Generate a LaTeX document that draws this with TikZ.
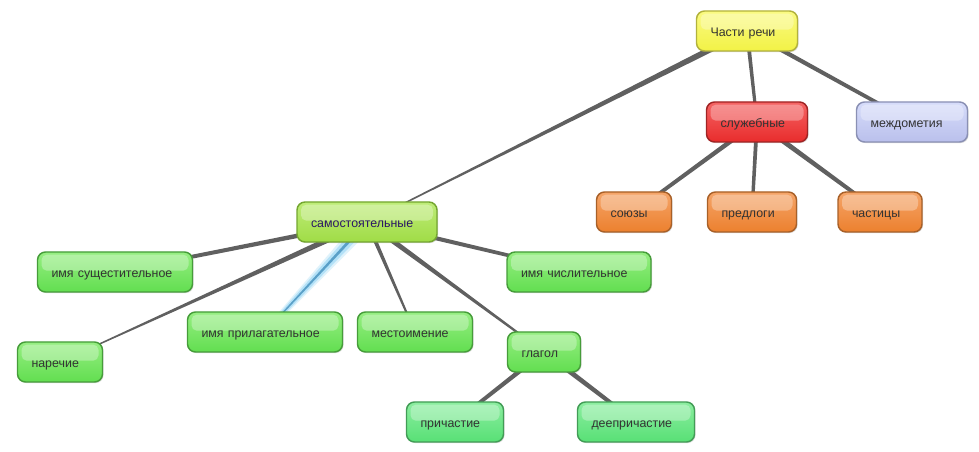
\documentclass[tikz,border=0pt]{standalone}
\usepackage{fontspec}
\setmainfont{Liberation Sans}
\usetikzlibrary{calc,shadows,backgrounds}

\definecolor{edgegray}{RGB}{96,96,96}
\definecolor{textgray}{RGB}{51,51,51}
\definecolor{yellowfill}{RGB}{242,242,70}
\definecolor{yellowtop}{RGB}{250,250,130}
\definecolor{yellowline}{RGB}{178,178,60}
\definecolor{redfill}{RGB}{232,44,44}
\definecolor{redtop}{RGB}{245,100,100}
\definecolor{redline}{RGB}{160,36,36}
\definecolor{lilacfill}{RGB}{186,192,236}
\definecolor{lilactop}{RGB}{214,220,250}
\definecolor{lilacline}{RGB}{138,144,180}
\definecolor{orangefill}{RGB}{236,128,46}
\definecolor{orangetop}{RGB}{245,165,105}
\definecolor{orangeline}{RGB}{168,96,40}
\definecolor{limefill}{RGB}{160,220,70}
\definecolor{limetop}{RGB}{190,236,120}
\definecolor{limeline}{RGB}{116,166,48}
\definecolor{greenfill}{RGB}{98,222,80}
\definecolor{greentop}{RGB}{150,238,130}
\definecolor{greenline}{RGB}{70,156,58}
\definecolor{mintfill}{RGB}{88,224,118}
\definecolor{minttop}{RGB}{140,238,160}
\definecolor{mintline}{RGB}{66,156,86}
\definecolor{glowblue}{RGB}{150,215,245}
\definecolor{coreblue}{RGB}{90,160,200}
\definecolor{indigo}{RGB}{43,22,102}

\tikzset{
  box/.style={rectangle, rounded corners=6pt, line width=1.1pt,
    minimum height=30pt, inner xsep=10.5pt, inner ysep=0pt,
    text width=#1, text height=8pt, text depth=0pt,
    align=left, text=textgray,
    font=\fontsize{9.3}{11}\selectfont,
    drop shadow={shadow xshift=0.8pt, shadow yshift=-0.8pt, opacity=0.3},
    path picture={\fill[white, opacity=0.3, rounded corners=4pt]
      ([xshift=3pt,yshift=-2pt]path picture bounding box.north west) rectangle
      ([xshift=-3pt,yshift=1pt]path picture bounding box.east);}},
  yellowbox/.style={box=#1, draw=yellowline, top color=yellowtop, bottom color=yellowfill},
  redbox/.style={box=#1, draw=redline, top color=redtop, bottom color=redfill},
  lilacbox/.style={box=#1, draw=lilacline, top color=lilactop, bottom color=lilacfill},
  orangebox/.style={box=#1, draw=orangeline, top color=orangetop, bottom color=orangefill},
  limebox/.style={box=#1, draw=limeline, top color=limetop, bottom color=limefill},
  greenbox/.style={box=#1, draw=greenline, top color=greentop, bottom color=greenfill},
  mintbox/.style={box=#1, draw=mintline, top color=minttop, bottom color=mintfill},
  edge/.style={fill=edgegray}
}

% tapered connector: [style]{from}{to}{half width at from}{half width at to}
\newcommand{\branch}[5][edge]{%
  \fill[#1] ($(#2)!#4!90:(#3)$) -- ($(#3)!#5!-90:(#2)$)
    -- ($(#3)!#5!90:(#2)$) -- ($(#2)!#4!-90:(#3)$) -- cycle;}

\begin{document}
\begin{tikzpicture}[x=0.75pt, y=-0.75pt]
  \useasboundingbox (0,0) rectangle (979,452);

  % top
  \node[yellowbox=54.75pt] (chasti) at (747,31) {Части речи};
  \node[redbox=54.75pt] (sluzh) at (757,122) {служебные};
  \node[lilacbox=62.25pt] (mezhd) at (912,122) {междометия};
  \node[orangebox=35.25pt] (soyuzy) at (634,212) {союзы};
  \node[orangebox=45.75pt] (predlogi) at (752,212) {предлоги};
  \node[orangebox=42pt] (chastitsy) at (880,212) {частицы};

  % left branch
  \node[limebox=84pt, text=indigo] (samost) at (367,222) {самостоятельные};
  \node[greenbox=95.25pt] (sush) at (115,272) {имя сущестительное};
  \node[greenbox=87pt] (chisl) at (579,272) {имя числительное};
  \node[greenbox=42.75pt] (narech) at (60,362) {наречие};
  \node[greenbox=95.25pt] (prilag) at (265,332) {имя прилагательное};
  \node[greenbox=65.25pt] (mestoim) at (415,332) {местоимение};
  \node[greenbox=33.75pt] (glagol) at (544,352) {глагол};
  \node[mintbox=51.75pt] (prich) at (455,422) {причастие};
  \node[mintbox=66.75pt] (deepr) at (636,422) {деепричастие};

  \begin{pgfonlayer}{background}
    \fill[white] (0,0) rectangle (979,452);
    \branch{chasti}{samost}{2.4pt}{0.35pt}
    \branch{chasti}{sluzh}{1.5pt}{1.1pt}
    \branch{chasti}{mezhd}{1.7pt}{1.3pt}
    \branch{sluzh}{soyuzy}{1.8pt}{1.3pt}
    \branch{sluzh}{predlogi}{1.5pt}{1.2pt}
    \branch{sluzh}{chastitsy}{2pt}{1.3pt}
    \branch{samost}{sush}{1.8pt}{1.3pt}
    \branch{samost}{narech}{2.3pt}{0.3pt}
    % selected link with glow
    \branch[fill=glowblue, opacity=0.3]{samost}{prilag}{6pt}{1.8pt}
    \branch[fill=glowblue, opacity=0.6]{samost}{prilag}{3.8pt}{1.1pt}
    \branch[fill=coreblue]{samost}{prilag}{1.2pt}{0.4pt}
    \branch{samost}{mestoim}{1.6pt}{0.6pt}
    \branch{samost}{glagol}{2.1pt}{0.6pt}
    \branch{samost}{chisl}{1.7pt}{1.2pt}
    \branch{glagol}{prich}{1.8pt}{1.3pt}
    \branch{glagol}{deepr}{2pt}{1.3pt}
  \end{pgfonlayer}
\end{tikzpicture}
\end{document}
